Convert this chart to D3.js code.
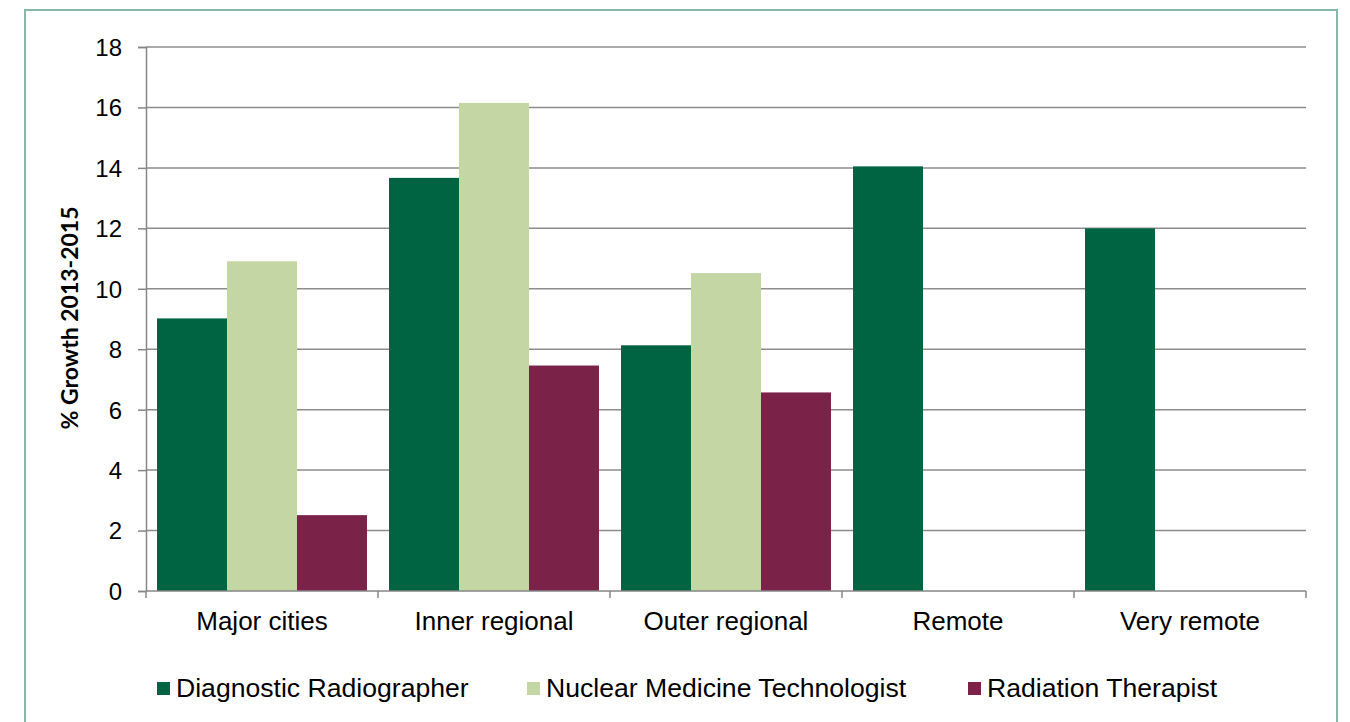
<!DOCTYPE html>
<html><head><meta charset="utf-8">
<script src="https://cdn.jsdelivr.net/npm/d3@7"></script>
<style>html,body{margin:0;padding:0;background:#fff;}svg{display:block;}</style>
</head><body>
<svg id="chart" width="1350" height="722"></svg>
<script>
const categories = ["Major cities", "Inner regional", "Outer regional", "Remote", "Very remote"];
const seriesNames = ["Diagnostic Radiographer", "Nuclear Medicine Technologist", "Radiation Therapist"];
const diagnosticRadiographer = [9.02, 13.67, 8.13, 14.05, 12.0];
const nuclearMedicine = [10.91, 16.15, 10.52, 0, 0];
const radiationTherapist = [2.51, 7.46, 6.57, 0, 0];
const yTicks = [0, 2, 4, 6, 8, 10, 12, 14, 16, 18];
const colors = ["#006443", "#c4d6a4", "#7b2249"];
const seriesValues = [diagnosticRadiographer, nuclearMedicine, radiationTherapist];

(function () {
const svg = d3.select("#chart");
const pL = 146, pR = 1306, pT = 47, pB = 591;

// outer border
svg.append("rect").attr("x", 25).attr("y", 10).attr("width", 1312).attr("height", 730)
  .attr("fill", "none").attr("stroke", "#86b8a6").attr("stroke-width", 2);

const y = d3.scaleLinear().domain([0, 18]).range([pB, pT]);
const x = d3.scaleBand().domain(categories).range([pL, pR]).paddingInner(0.095).paddingOuter(0.0475);
const xs = d3.scaleBand().domain(seriesNames).range([0, x.bandwidth()]);
const step = x.step();

// gridlines
svg.append("g").selectAll("line").data(yTicks.filter(d => d > 0)).join("line")
  .attr("x1", pL).attr("x2", pR)
  .attr("y1", d => y(d)).attr("y2", d => y(d))
  .attr("stroke", "#8c8c8c").attr("stroke-width", 1.5);

// bars
const groups = svg.append("g").selectAll("g").data(categories).join("g")
  .attr("transform", c => `translate(${x(c)},0)`);
groups.selectAll("rect")
  .data((c, i) => seriesNames.map((s, j) => ({ s, j, v: seriesValues[j][i] })).filter(d => d.v > 0))
  .join("rect")
  .attr("x", d => xs(d.s)).attr("width", xs.bandwidth())
  .attr("y", d => y(d.v)).attr("height", d => y(0) - y(d.v))
  .attr("fill", d => colors[d.j]);

// y axis
const yAxis = d3.axisLeft(y).tickValues(yTicks).tickSize(8).tickPadding(16);
const yg = svg.append("g").attr("transform", `translate(${pL},0)`).call(yAxis);
yg.select(".domain").attr("stroke", "#868686").attr("stroke-width", 1.5);
yg.selectAll(".tick line").attr("stroke", "#868686").attr("stroke-width", 1.5);
yg.selectAll(".tick text").attr("font-family", "Liberation Sans, Arial, sans-serif")
  .attr("font-size", 24).attr("fill", "#000").attr("dy", "0.35em");

// x axis line
svg.append("line").attr("x1", pL).attr("x2", pR).attr("y1", pB).attr("y2", pB)
  .attr("stroke", "#868686").attr("stroke-width", 1.5);
// x boundary ticks
const bounds = categories.map(c => x(c) - step * x.paddingInner() / 2).concat([pR]);
svg.append("g").selectAll("line").data(bounds).join("line")
  .attr("x1", d => d).attr("x2", d => d).attr("y1", pB).attr("y2", pB + 7)
  .attr("stroke", "#868686").attr("stroke-width", 1.5);
// x labels
svg.append("g").selectAll("text").data(categories).join("text")
  .attr("x", c => x(c) + x.bandwidth() / 2).attr("y", 630)
  .attr("text-anchor", "middle")
  .attr("font-family", "Liberation Sans, Arial, sans-serif").attr("font-size", 26)
  .text(c => c);

// y title
svg.append("text").attr("transform", "translate(78,318) rotate(-90)")
  .attr("text-anchor", "middle")
  .attr("font-family", "Lato, 'Open Sans', sans-serif").attr("font-weight", "bold")
  .attr("font-size", 23).text("% Growth 2013-2015");

// legend
const legendX = [157, 527, 968];
const lg = svg.append("g").selectAll("g").data(seriesNames).join("g")
  .attr("transform", (d, i) => `translate(${legendX[i]},0)`);
lg.append("rect").attr("x", 0).attr("y", 682).attr("width", 13).attr("height", 13)
  .attr("fill", (d, i) => colors[i]);
lg.append("text").attr("x", 19).attr("y", 697)
  .attr("font-family", "Liberation Sans, Arial, sans-serif").attr("font-size", 26.6)
  .text(d => d);
})();
</script>
</body></html>
